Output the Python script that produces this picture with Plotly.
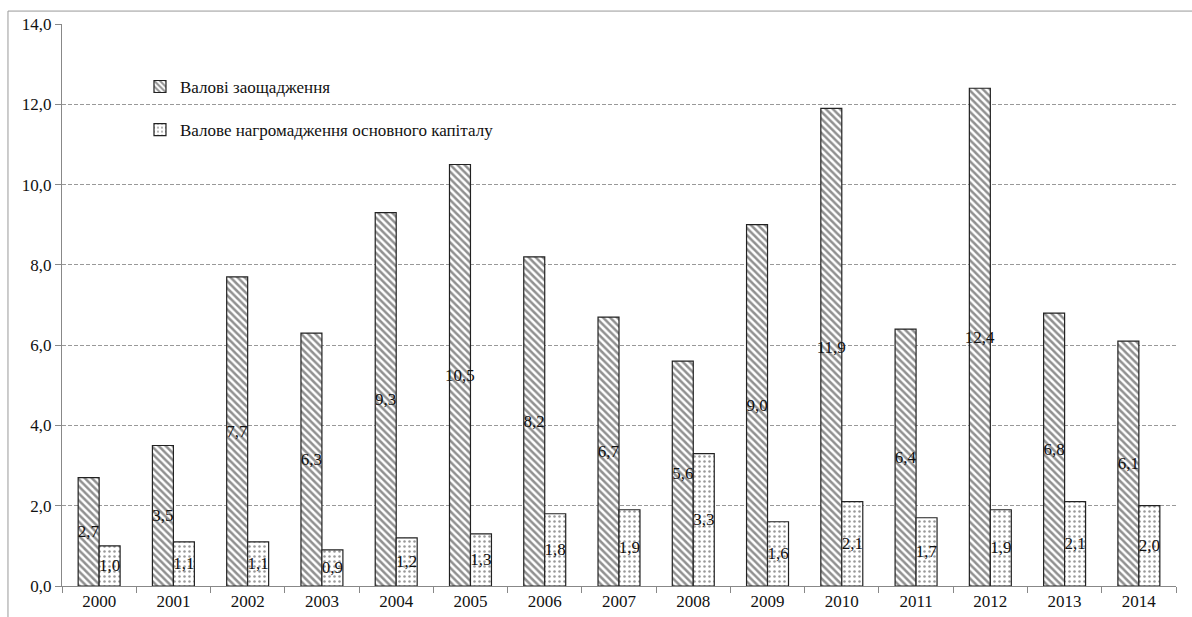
import plotly.graph_objects as go

years = ["2000", "2001", "2002", "2003", "2004", "2005", "2006", "2007",
         "2008", "2009", "2010", "2011", "2012", "2013", "2014"]
savings = [2.7, 3.5, 7.7, 6.3, 9.3, 10.5, 8.2, 6.7, 5.6, 9.0, 11.9, 6.4, 12.4, 6.8, 6.1]
capital = [1.0, 1.1, 1.1, 0.9, 1.2, 1.3, 1.8, 1.9, 3.3, 1.6, 2.1, 1.7, 1.9, 2.1, 2.0]
series_names = ["Валові заощадження", "Валове нагромадження основного капіталу"]

FONT = "Liberation Serif"


def fmt(v):
    return f"{v:.1f}".replace(".", ",")


fig = go.Figure()
fig.add_trace(go.Bar(
    x=years, y=savings, name=series_names[0], legendgroup="a",
    text=[fmt(v) for v in savings], textposition="inside",
    insidetextanchor="middle", textangle=0, constraintext="none",
    textfont=dict(family=FONT, size=17, color="#111"),
    marker=dict(color="white", line=dict(color="#222", width=1.2),
                pattern=dict(shape="\\", size=5, solidity=0.5,
                             fgcolor="#222", bgcolor="white", fillmode="overlay")),
))
fig.add_trace(go.Bar(
    x=years, y=capital, name=series_names[1], legendgroup="b",
    text=[fmt(v) for v in capital], textposition="inside",
    insidetextanchor="middle", textangle=0, constraintext="none",
    textfont=dict(family=FONT, size=17, color="#111"),
    marker=dict(color="white", line=dict(color="#222", width=1.2),
                pattern=dict(shape=".", size=5, solidity=0.2,
                             fgcolor="#333", bgcolor="white", fillmode="overlay")),
))

fig.update_layout(
    width=1192, height=617,
    margin=dict(l=62, r=16, t=24, b=31),
    paper_bgcolor="white", plot_bgcolor="white",
    barmode="group", bargap=0.435, bargroupgap=0,
    separators=", ",
    font=dict(family=FONT, size=17, color="#111"),
    uniformtext=dict(minsize=17, mode="show"),
    legend=dict(x=0.07, y=0.92, xanchor="left", yanchor="top",
                font=dict(family=FONT, size=17, color="#111"),
                tracegroupgap=18, bgcolor="rgba(0,0,0,0)",
                itemwidth=30),
    showlegend=True,
    shapes=[dict(type="rect", xref="paper", yref="paper",
                 x0=-0.0485, x1=1.2, y0=-0.2, y1=1.023,
                 line=dict(color="#999", width=1), layer="below")],
)
fig.update_xaxes(
    type="category", showline=True, linecolor="#888", linewidth=1,
    ticks="outside", tickson="boundaries", ticklen=6, tickcolor="#888",
    showgrid=False, automargin=False,
    tickfont=dict(family=FONT, size=17, color="#111"),
)
fig.update_yaxes(
    range=[0, 14], dtick=2, tickformat=".1f",
    showline=True, linecolor="#888", linewidth=1,
    ticks="outside", ticklen=6, tickcolor="#888",
    showgrid=True, gridcolor="#999", griddash="4px,2px", gridwidth=1,
    zeroline=False, automargin=False,
    tickfont=dict(family=FONT, size=17, color="#111"),
)

fig.write_html("out.html")
